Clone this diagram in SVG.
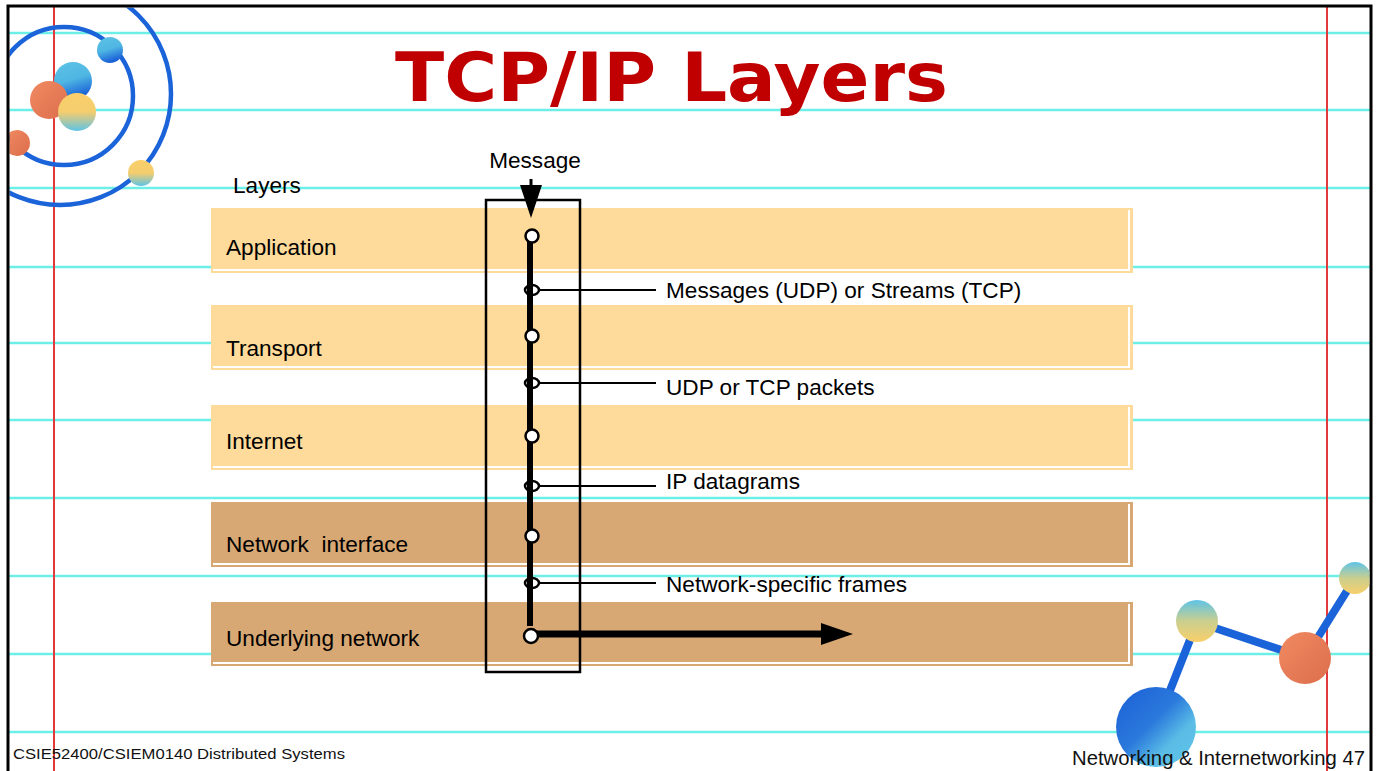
<svg xmlns="http://www.w3.org/2000/svg" width="1378" height="771" viewBox="0 0 1378 771">
  <defs>
    <style>
      .rule { stroke: #6cefe7; stroke-width: 2.5; }
      .margin { stroke: #e23a3a; stroke-width: 2; }
      .orbit { fill: none; stroke: #1b63d8; stroke-width: 4.5; }
      .bond { stroke: #1b63d8; stroke-width: 8; stroke-linecap: round; }
      .band-light { fill: #fedb9b; }
      .band-dark { fill: #d8a874; }
      .edge { fill: none; stroke: #ffffff; stroke-width: 2; }
      .label { font-family: "Liberation Sans", Arial, sans-serif; font-size: 22.6px; fill: #000; }
      .footer { font-family: "Liberation Sans", Arial, sans-serif; fill: #111; }
      .node { fill: #fff; stroke: #000; stroke-width: 2.5; }
      .tap { fill: none; stroke: #000; stroke-width: 2.5; }
      .lead { stroke: #000; stroke-width: 2; }
    </style>
    <clipPath id="frameClip">
      <rect x="9.5" y="7.5" width="1360" height="780"/>
    </clipPath>
    <linearGradient id="gBlue" x1="0" y1="0" x2="0.3" y2="1">
      <stop offset="0" stop-color="#5ec3e6"/>
      <stop offset="0.55" stop-color="#4fb6e3"/>
      <stop offset="1" stop-color="#1b63d8"/>
    </linearGradient>
    <linearGradient id="gBigBlue" x1="0" y1="0" x2="1" y2="1">
      <stop offset="0" stop-color="#1b5fd6"/>
      <stop offset="0.45" stop-color="#2a79dc"/>
      <stop offset="0.7" stop-color="#5bbde6"/>
      <stop offset="1" stop-color="#5ec3e6"/>
    </linearGradient>
    <linearGradient id="gYellow" x1="0" y1="0" x2="0" y2="1">
      <stop offset="0" stop-color="#f9cf6a"/>
      <stop offset="0.5" stop-color="#f4cd6e"/>
      <stop offset="1" stop-color="#5ec3e6"/>
    </linearGradient>
    <linearGradient id="gYellowTop" x1="0" y1="0" x2="0" y2="1">
      <stop offset="0" stop-color="#5ec3e6"/>
      <stop offset="0.5" stop-color="#c9cf8f"/>
      <stop offset="1" stop-color="#f9cf6a"/>
    </linearGradient>
    <linearGradient id="gOrange" x1="0" y1="0" x2="1" y2="1">
      <stop offset="0" stop-color="#f08a62"/>
      <stop offset="1" stop-color="#dc6e4c"/>
    </linearGradient>
  </defs>

  <!-- paper -->
  <rect x="0" y="0" width="1378" height="771" fill="#ffffff"/>
  <g id="ruling">
    <line class="rule" x1="8" y1="33" x2="1371" y2="33"/>
    <line class="rule" x1="8" y1="110" x2="1371" y2="110"/>
    <line class="rule" x1="8" y1="188" x2="1371" y2="188"/>
    <line class="rule" x1="8" y1="267" x2="1371" y2="267"/>
    <line class="rule" x1="8" y1="343" x2="1371" y2="343"/>
    <line class="rule" x1="8" y1="420" x2="1371" y2="420"/>
    <line class="rule" x1="8" y1="498" x2="1371" y2="498"/>
    <line class="rule" x1="8" y1="576" x2="1371" y2="576"/>
    <line class="rule" x1="8" y1="654" x2="1371" y2="654"/>
    <line class="rule" x1="8" y1="732" x2="1371" y2="732"/>
    <line class="margin" x1="54" y1="6" x2="54" y2="771"/>
    <line class="margin" x1="1327" y1="6" x2="1327" y2="771"/>
  </g>

  <!-- atom ornament, top left (kept inside the page frame) -->
  <g id="atom" clip-path="url(#frameClip)">
    <circle class="orbit" cx="64" cy="96" r="69"/>
    <circle class="orbit" cx="60" cy="94" r="111"/>
    <circle cx="110" cy="50" r="13" fill="url(#gBlue)"/>
    <circle cx="73" cy="81" r="19" fill="url(#gBlue)"/>
    <circle cx="49" cy="100" r="19" fill="url(#gOrange)"/>
    <circle cx="77" cy="112" r="19" fill="url(#gYellow)"/>
    <circle cx="17" cy="143" r="13" fill="url(#gOrange)"/>
    <circle cx="141" cy="173" r="13" fill="url(#gYellow)"/>
  </g>

  <rect x="8" y="6" width="1363" height="780" fill="none" stroke="#000" stroke-width="3"/>

  <!-- title -->
  <text id="title" x="395" y="101" textLength="553" lengthAdjust="spacingAndGlyphs" font-family="'DejaVu Sans', Verdana, sans-serif" font-weight="bold" font-size="68" fill="#c00000">TCP/IP Layers</text>

  <text class="label" x="233" y="193">Layers</text>
  <text class="label" x="535" y="168" text-anchor="middle">Message</text>

  <!-- layer bands -->
  <g id="layer-application">
    <rect class="band-light" x="211" y="208" width="922" height="65"/>
    <polyline class="edge" points="213,270 1129,270 1129,210"/>
    <text class="label" x="226" y="255">Application</text>
  </g>
  <g id="layer-transport">
    <rect class="band-light" x="211" y="305" width="922" height="65"/>
    <polyline class="edge" points="213,367 1129,367 1129,307"/>
    <text class="label" x="226" y="356">Transport</text>
  </g>
  <g id="layer-internet">
    <rect class="band-light" x="211" y="405" width="922" height="65"/>
    <polyline class="edge" points="213,467 1129,467 1129,407"/>
    <text class="label" x="226" y="449">Internet</text>
  </g>
  <g id="layer-network-interface">
    <rect class="band-dark" x="211" y="502" width="922" height="65"/>
    <polyline class="edge" points="213,564 1129,564 1129,504"/>
    <text class="label" x="226" y="552" xml:space="preserve">Network  interface</text>
  </g>
  <g id="layer-underlying">
    <rect class="band-dark" x="211" y="602" width="922" height="64"/>
    <polyline class="edge" points="213,663 1129,663 1129,604"/>
    <text class="label" x="226" y="646">Underlying network</text>
  </g>

  <!-- host boundary -->
  <rect id="host" x="486" y="200" width="94" height="472" fill="none" stroke="#000" stroke-width="2.5"/>

  <!-- message path -->
  <g id="connectors">
    <line x1="531" y1="179" x2="531" y2="190" stroke="#000" stroke-width="3"/>
    <path d="M520 185 L542 185 L531 218 Z" fill="#000"/>
    <line x1="530" y1="236" x2="530" y2="626" stroke="#000" stroke-width="6"/>
    <line x1="536" y1="634" x2="824" y2="634" stroke="#000" stroke-width="7"/>
    <path d="M821 623 L853 634 L821 645 Z" fill="#000"/>

    <line class="lead" x1="539" y1="290" x2="656" y2="290"/>
    <line class="lead" x1="539" y1="383" x2="656" y2="383"/>
    <line class="lead" x1="539" y1="486" x2="656" y2="486"/>
    <line class="lead" x1="539" y1="583" x2="656" y2="583"/>
    <ellipse class="tap" cx="532" cy="290" rx="7" ry="5"/>
    <ellipse class="tap" cx="532" cy="383" rx="7" ry="5"/>
    <ellipse class="tap" cx="532" cy="486" rx="7" ry="5"/>
    <ellipse class="tap" cx="532" cy="583" rx="7" ry="5"/>
  </g>

  <g id="stage-nodes">
    <circle class="node" cx="532" cy="236" r="6.5"/>
    <circle class="node" cx="532" cy="336" r="6.5"/>
    <circle class="node" cx="532" cy="436" r="6.5"/>
    <circle class="node" cx="532" cy="536" r="6.5"/>
    <circle class="node" cx="531" cy="636" r="7"/>
  </g>

  <g id="unit-labels">
    <text class="label" x="666" y="298">Messages (UDP) or Streams (TCP)</text>
    <text class="label" x="666" y="395">UDP or TCP packets</text>
    <text class="label" x="666" y="489">IP datagrams</text>
    <text class="label" x="666" y="592">Network-specific frames</text>
  </g>

  <!-- molecule ornament, bottom right -->
  <g id="molecule" clip-path="url(#frameClip)">
    <line class="bond" x1="1156" y1="726" x2="1197" y2="622"/>
    <line class="bond" x1="1197" y1="622" x2="1305" y2="658"/>
    <line class="bond" x1="1305" y1="658" x2="1355" y2="578"/>
    <circle cx="1156" cy="727" r="40" fill="url(#gBigBlue)"/>
    <circle cx="1197" cy="621" r="21" fill="url(#gYellowTop)"/>
    <circle cx="1305" cy="658" r="26" fill="url(#gOrange)"/>
    <circle cx="1355" cy="578" r="16" fill="url(#gYellowTop)"/>
  </g>

  <!-- footer -->
  <text class="footer" x="13" y="759" font-size="15" textLength="332" lengthAdjust="spacingAndGlyphs">CSIE52400/CSIEM0140 Distributed Systems</text>
  <text class="footer" x="1072" y="765" font-size="20" textLength="293" lengthAdjust="spacingAndGlyphs">Networking &amp; Internetworking 47</text>
</svg>
